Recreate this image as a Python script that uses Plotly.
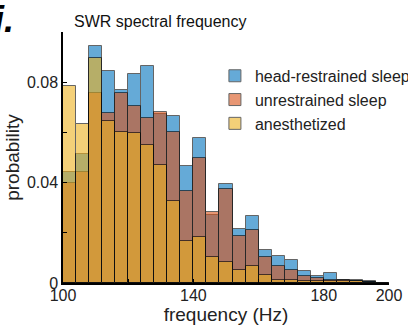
import plotly.graph_objects as go

bin_left = [100, 104, 108, 112, 116, 120, 124, 128, 132, 136, 140, 144, 148,
            152, 156, 160, 164, 168, 172, 176, 180, 184, 188, 192, 196]
bin_width = 4

head_restrained = [0.0443, 0.0513, 0.0944, 0.0844, 0.0769, 0.0831, 0.0864, 0.0672,
                   0.0664, 0.0467, 0.0579, 0.0270, 0.0393, 0.0216, 0.0267, 0.0133,
                   0.0109, 0.0092, 0.0049, 0.0027, 0.0040, 0.0011, 0.0013, 0.0007, 0.0002]
unrestrained = [0.0397, 0.0443, 0.0756, 0.0676, 0.0756, 0.0704, 0.0656, 0.0680,
                0.0603, 0.0365, 0.0500, 0.0282, 0.0375, 0.0188, 0.0211, 0.0104,
                0.0067, 0.0053, 0.0029, 0.0020, 0.0011, 0.0010, 0.0008, 0.0005, 0.0001]
anesthetized = [0.0784, 0.0633, 0.0896, 0.0647, 0.0603, 0.0596, 0.0549, 0.0471,
                0.0327, 0.0168, 0.0184, 0.0105, 0.0085, 0.0052, 0.0069, 0.0033,
                0.0013, 0.0011, 0.0008, 0.0007, 0.0008, 0.0008, 0.0006, 0.0003, 0.0001]

series_names = ["head-restrained sleep", "unrestrained sleep", "anesthetized"]
series_colors = ["rgb(0,114,189)", "rgb(217,83,25)", "rgb(237,177,32)"]

x_tickvals = [100, 120, 140, 160, 180, 200]
x_ticktext = ["100", "", "140", "", "180", "200"]
y_tickvals = [0, 0.02, 0.04, 0.06, 0.08, 0.1]
y_ticktext = ["0", "", "0.04", "", "0.08", ""]

centers = [b + bin_width / 2 for b in bin_left]
FONT = "Arial, Liberation Sans, sans-serif"

fig = go.Figure()
for name, vals, col in zip(series_names, [head_restrained, unrestrained, anesthetized], series_colors):
    fig.add_trace(go.Bar(
        x=centers, y=vals, width=bin_width, name=name,
        marker=dict(color=col, line=dict(color="black", width=1)),
        opacity=0.6,
    ))

fig.update_layout(
    width=408, height=329,
    barmode="overlay", bargap=0,
    paper_bgcolor="white", plot_bgcolor="white",
    margin=dict(l=63, r=19, t=32, b=46, autoexpand=False),
    font=dict(family=FONT, size=16, color="#222"),
    title=dict(text="SWR spectral frequency", x=(74 - 63) / 326, xref="paper", xanchor="left",
               y=1 - 21 / 329, yref="container", yanchor="middle",
               font=dict(family=FONT, size=16, color="#111")),
    legend=dict(x=0.466, y=0.893, xanchor="left", yanchor="top",
                bgcolor="rgba(0,0,0,0)", font=dict(family=FONT, size=16, color="#222"),
                tracegroupgap=0),
    showlegend=True,
    xaxis=dict(range=[100, 200], tickvals=x_tickvals, ticktext=x_ticktext,
               ticks="inside", ticklen=4, tickcolor="black", showline=True,
               linecolor="black", linewidth=1.5, showgrid=False, zeroline=False,
               ticklabelstandoff=-3,
               title=dict(text="frequency (Hz)", standoff=2),
               tickfont=dict(size=16, color="#222")),
    yaxis=dict(range=[0, 0.1], tickvals=y_tickvals, ticktext=y_ticktext,
               ticks="inside", ticklen=4, tickcolor="black", showline=True,
               linecolor="black", linewidth=1.5, showgrid=False, zeroline=False,
               title=dict(text="probability", standoff=2),
               tickfont=dict(size=16, color="#222")),
    annotations=[dict(text="<b><i>ii.</i></b>", xref="paper", yref="paper",
                      x=-(63 - 16) / 326, y=1 + (32 - 42) / 251,
                      xanchor="right", yanchor="bottom", showarrow=False,
                      font=dict(family=FONT, size=36, color="black"))],
)

fig.write_html("out.html")
